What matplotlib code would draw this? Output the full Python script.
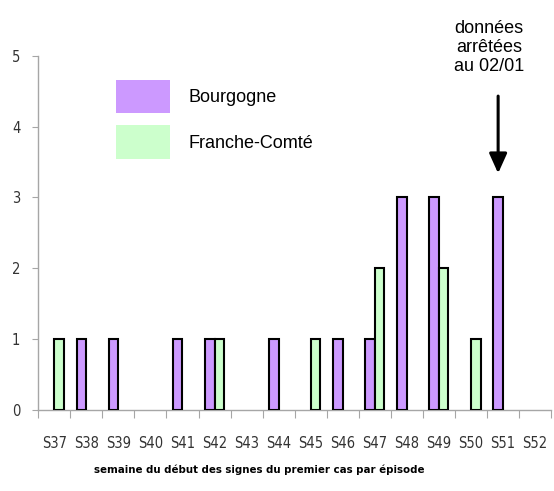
import matplotlib
matplotlib.use("Agg")
import matplotlib.pyplot as plt
from matplotlib.patches import Patch
import numpy as np

weeks = ["S37", "S38", "S39", "S40", "S41", "S42", "S43", "S44",
         "S45", "S46", "S47", "S48", "S49", "S50", "S51", "S52"]
bourgogne = [0, 1, 1, 0, 1, 1, 0, 1, 0, 1, 1, 3, 3, 0, 3, 0]
franche_comte = [1, 0, 0, 0, 0, 1, 0, 0, 1, 0, 2, 0, 2, 1, 0, 0]
y_ticks = [0, 1, 2, 3, 4, 5]

PURPLE = "#CC99FF"
GREEN = "#CCFFCC"
AXIS_GREY = "#A6A6A6"
NARROW = "DejaVu Sans"
ARIAL = ["Liberation Sans", "DejaVu Sans"]

W, H = 554, 491
fig = plt.figure(figsize=(W / 100, H / 100), dpi=100)
ax = fig.add_axes([38.3 / W, 1 - 410 / H, 512.7 / W, 354.3 / H])

x = np.arange(len(weeks))
b = np.array(bourgogne)
f = np.array(franche_comte)
width = 0.3
# Excel does not draw empty bars, so skip zeros
ax.bar(x[b > 0] - width / 2, b[b > 0], width, color=PURPLE,
       edgecolor="black", linewidth=1.5, zorder=3)
ax.bar(x[f > 0] + width / 2, f[f > 0], width, color=GREEN,
       edgecolor="black", linewidth=1.5, zorder=3)

ax.set_xlim(-0.5, len(weeks) - 0.5)
ax.set_ylim(0, 5)

for s in ["top", "right"]:
    ax.spines[s].set_visible(False)
for s in ["left", "bottom"]:
    ax.spines[s].set_color(AXIS_GREY)
    ax.spines[s].set_linewidth(1)

# boundaries as major ticks, labels on minor ticks at centres
ax.set_xticks(np.arange(len(weeks) + 1) - 0.5)
ax.set_xticklabels([])
ax.set_xticks(x, minor=True)
ax.set_xticklabels(weeks, minor=True, family=NARROW, fontstretch="condensed",
                   fontsize=10.5, color="#333333")
ax.tick_params(axis="x", which="major", length=6, color=AXIS_GREY)
ax.tick_params(axis="x", which="minor", length=0, pad=19)

ax.set_yticks(y_ticks)
ax.set_yticklabels([str(v) for v in y_ticks], family=NARROW,
                   fontstretch="condensed", fontsize=10.5, color="#333333")
ax.tick_params(axis="y", length=4, color=AXIS_GREY, pad=9)

fig.text(259 / W, 1 - 470 / H, "semaine du début des signes du premier cas par épisode",
         ha="center", va="center", family=NARROW, fontstretch="condensed",
         fontsize=8.2, fontweight="bold")

handles = [Patch(facecolor=PURPLE, edgecolor="none", label="Bourgogne"),
           Patch(facecolor=GREEN, edgecolor="none", label="Franche-Comté")]
fs = 13
px = fs * 100 / 72
ax.legend(handles=handles, loc="upper left",
          bbox_to_anchor=(116 / W, 1 - 80 / H), bbox_transform=fig.transFigure,
          frameon=False, prop={"family": ARIAL, "size": fs},
          handlelength=54 / px, handleheight=34 / px * 1.31,
          labelspacing=12 / px, handletextpad=19 / px,
          borderpad=0, borderaxespad=0)

# annotation for the data cut-off
x51 = weeks.index("S51") - width / 2
ax.annotate("", xy=(x51, 3.34), xytext=(x51, 4.43),
            arrowprops=dict(arrowstyle="-|>,head_length=0.6,head_width=0.27",
                            mutation_scale=20, lw=2.2, color="black",
                            shrinkA=0, shrinkB=0),
            annotation_clip=False)
ax.text(x51 - 0.28, 5.12, "données\narrêtées\nau 02/01", ha="center",
        va="center", family=ARIAL, fontsize=13, linespacing=1.15,
        clip_on=False)

fig.savefig("out.png", dpi=100)
